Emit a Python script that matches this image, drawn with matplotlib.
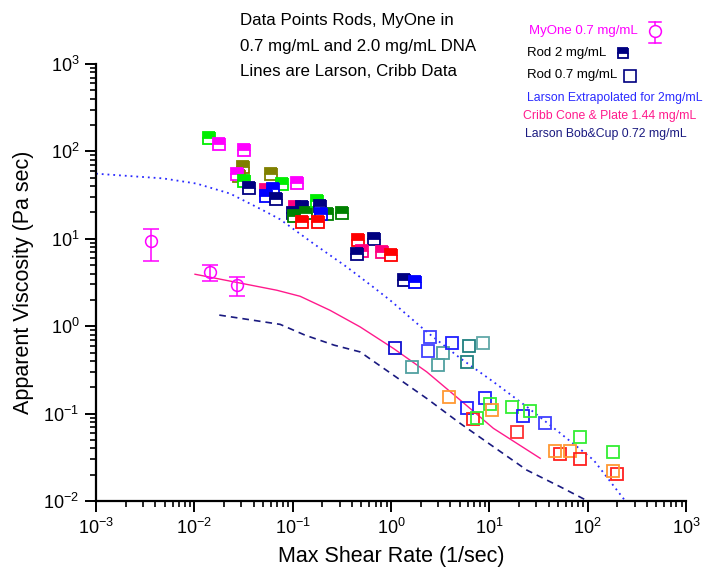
import numpy as np
import matplotlib.pyplot as plt
from matplotlib.lines import Line2D

plt.rcParams['font.family'] = ['Liberation Sans', 'DejaVu Sans']
plt.rcParams['mathtext.fontset'] = 'custom'
plt.rcParams['mathtext.rm'] = 'Liberation Sans'
plt.rcParams['mathtext.it'] = 'Liberation Sans'

# MyOne 0.7 mg/mL (circles with error bars)
myone_x = [0.0036, 0.01445, 0.0274]
myone_y = [9.44, 4.18, 2.94]
myone_hi = [12.9, 5.07, 3.63]
myone_lo = [5.63, 3.30, 2.24]

# Rod 2 mg/mL (half filled squares)
rod2_x = [0.0141, 0.0177, 0.0321, 0.0315, 0.0285, 0.027, 0.0323, 0.0357, 0.0607,
          0.078, 0.1117, 0.054, 0.0637, 0.054, 0.0682, 0.1057, 0.1256, 0.1002,
          0.104, 0.136, 0.177, 0.190, 0.222, 0.192, 0.316, 0.124, 0.182, 0.459,
          0.668, 0.505, 0.455, 0.805, 1.01, 1.36, 1.76]
rod2_y = [142, 120, 105, 66, 51.8, 55.6, 45.4, 38.5, 54.6,
          42, 43.9, 36.5, 37.5, 30.8, 28.3, 23.1, 23.1, 19.9,
          18.1, 19.7, 27, 23.7, 19.4, 19.4, 19.5, 15.7, 15.4, 9.6,
          9.95, 7.2, 6.78, 7.0, 6.5, 3.42, 3.24]
rod2_c = ['#00ee00', '#ff00ff', '#ff00ff', '#808000', '#808000', '#ff00ff', '#00ee00',
          '#000080', '#808000', '#00ee00', '#ff00ff', '#ff0080', '#0000ff', '#0000ff',
          '#000080', '#ff0080', '#000080', '#000080', '#008000', '#008000', '#00ee00',
          '#000080', '#008000', '#0000ff', '#008000', '#ff0000', '#ff0000', '#ff0000',
          '#000080', '#ff0080', '#000080', '#ff0080', '#ff0000', '#000080', '#0000ff']

# Rod 0.7 mg/mL (open squares)
rod07_x = [1.10, 1.63, 2.50, 2.37, 3.41, 3.03, 4.22, 6.28, 8.59, 5.98,
           3.87, 9.06, 10.2, 10.6, 5.98, 6.89, 7.57, 16.9, 21.9, 26.2,
           37.0, 19.3, 82.6, 52.9, 47.0, 66.8, 83.9, 183, 201, 183]
rod07_y = [0.568, 0.343, 0.755, 0.522, 0.488, 0.358, 0.634, 0.59, 0.634, 0.388,
           0.153, 0.149, 0.129, 0.110, 0.115, 0.0865, 0.0895, 0.118, 0.0936, 0.107,
           0.0773, 0.0615, 0.0539, 0.0342, 0.0376, 0.0376, 0.0302, 0.0360, 0.0204, 0.0220]
rod07_c = ['#1010d0', '#50a0a0', '#4040ff', '#4040ff', '#50a0a0', '#50a0a0', '#2020ff',
           '#208080', '#60a8a8', '#208080', '#ff9933', '#2020ff', '#33ee33', '#ff9933',
           '#2020ff', '#ff2020', '#33ee33', '#33ee33', '#2020ff', '#33ee33', '#4040ff',
           '#ff3030', '#33ee33', '#ff2020', '#ff9933', '#ff9933', '#ff2020', '#33ee33',
           '#ff2020', '#ff9933']

# Larson extrapolated for 2 mg/mL
larson_x = [0.001, 0.00481, 0.01057, 0.0231, 0.050, 0.0745, 0.161, 0.355, 0.658,
            0.98, 2.31, 5.05, 11.0, 24.0, 52.5, 115, 240]
larson_y = [55.6, 49.1, 42.8, 32.9, 21.2, 16.7, 8.89, 4.76, 2.81,
            1.98, 0.861, 0.431, 0.231, 0.120, 0.0598, 0.0294, 0.0101]

# Cribb cone & plate 1.44 mg/mL
cribb_x = [0.01016, 0.0689, 0.119, 0.240, 0.485, 1.06, 2.31, 5.05, 11.0, 32.9]
cribb_y = [3.93, 2.58, 2.20, 1.52, 0.982, 0.556, 0.300, 0.143, 0.0678, 0.0308]

# Larson bob & cup 0.72 mg/mL
bob_x = [0.01794, 0.0745, 0.134, 0.264, 0.485, 1.06, 2.31, 5.05, 11.0, 24.0, 52.5, 100]
bob_y = [1.34, 1.05, 0.789, 0.607, 0.508, 0.275, 0.149, 0.0773, 0.0418, 0.0226, 0.01456, 0.0100]

fig = plt.figure(figsize=(7.05, 5.72), dpi=100)
ax = fig.add_axes([96 / 705, 1 - 501 / 572, 590 / 705, 437 / 572])

ax.plot(larson_x, larson_y, ls=(0, (1, 2.2)), color='#2a2aff', lw=1.3)
ax.plot(cribb_x, cribb_y, ls='-', color='#ff1a8c', lw=1.0)
ax.plot(bob_x, bob_y, ls=(0, (4, 3)), color='#1a1a80', lw=1.2)

for x, y, c in zip(rod2_x, rod2_y, rod2_c):
    ax.plot(x, y, marker='s', ms=8, mec=c, mfc=c, fillstyle='top',
            markerfacecoloralt='white', mew=1.3, ls='none')

for x, y, c in zip(rod07_x, rod07_y, rod07_c):
    ax.plot(x, y, marker='s', ms=8.5, mec=c, mfc='none', mew=1.3, ls='none')

err = [np.array(myone_y) - np.array(myone_lo), np.array(myone_hi) - np.array(myone_y)]
ax.errorbar(myone_x, myone_y, yerr=err, fmt='o', ms=8.5, mfc='none', mec='#ff00ff',
            mew=1.1, ecolor='#ff00ff', elinewidth=1.1, capsize=6, capthick=1.1)

ax.set_xscale('log')
ax.set_yscale('log')
ax.set_xlim(1e-3, 1e3)
ax.set_ylim(1e-2, 1e3)
ax.spines['top'].set_visible(False)
ax.spines['right'].set_visible(False)
ax.spines['left'].set_linewidth(1.6)
ax.spines['bottom'].set_linewidth(1.6)
ax.tick_params(which='major', direction='out', length=8, width=1.4, labelsize=13, pad=4)
ax.tick_params(which='minor', direction='out', length=4.5, width=1.2)
ax.set_xlabel('Max Shear Rate (1/sec)', fontsize=15.5, labelpad=6)
ax.set_ylabel('Apparent Viscosity (Pa sec)', fontsize=15.5, labelpad=7)


def fx(px):
    return px / 705


def fy(py):
    return 1 - py / 572


fig.text(fx(240), fy(21), 'Data Points Rods, MyOne in', fontsize=12.2, va='center')
fig.text(fx(240), fy(46), '0.7 mg/mL and 2.0 mg/mL DNA', fontsize=12.2, va='center')
fig.text(fx(240), fy(71), 'Lines are Larson, Cribb Data', fontsize=12.2, va='center')

fig.text(fx(529), fy(31), 'MyOne 0.7 mg/mL', fontsize=9.5, color='#ff00ff', va='center')
fig.text(fx(527), fy(53), 'Rod 2 mg/mL', fontsize=9.5, color='black', va='center')
fig.text(fx(527), fy(75), 'Rod 0.7 mg/mL', fontsize=9.5, color='black', va='center')
fig.text(fx(527), fy(98), 'Larson Extrapolated for 2mg/mL', fontsize=8.8, color='#2a2aff', va='center')
fig.text(fx(523), fy(116), 'Cribb Cone & Plate 1.44 mg/mL', fontsize=8.8, color='#ff1a8c', va='center')
fig.text(fx(525), fy(134), 'Larson Bob&Cup 0.72 mg/mL', fontsize=8.8, color='#1a1a80', va='center')

# legend symbols
tf = fig.transFigure
fig.add_artist(Line2D([fx(655), fx(655)], [fy(21.5), fy(42.5)], color='#ff00ff', lw=1.1, transform=tf))
fig.add_artist(Line2D([fx(649), fx(661)], [fy(21.5), fy(21.5)], color='#ff00ff', lw=1.1, transform=tf))
fig.add_artist(Line2D([fx(649), fx(661)], [fy(42.5), fy(42.5)], color='#ff00ff', lw=1.1, transform=tf))
fig.add_artist(Line2D([fx(655)], [fy(31)], marker='o', ms=8.5, mfc='white', mec='#ff00ff',
                      mew=1.1, transform=tf))
fig.add_artist(Line2D([fx(623)], [fy(53)], marker='s', ms=7.5, mec='#000080', mfc='#000080',
                      fillstyle='top', markerfacecoloralt='white', mew=1.3, transform=tf))
fig.add_artist(Line2D([fx(630)], [fy(75.5)], marker='s', ms=8, mec='#000080', mfc='none',
                      mew=1.2, transform=tf))

fig.savefig('out.png', dpi=100)
